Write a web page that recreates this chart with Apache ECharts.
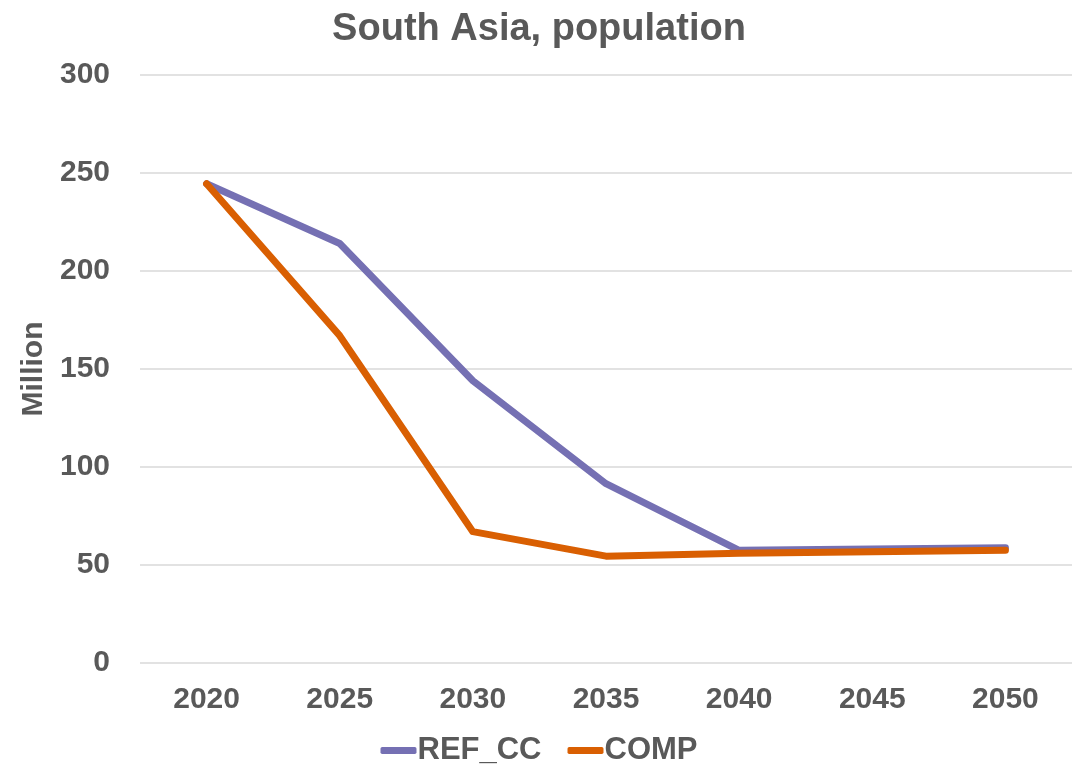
<!DOCTYPE html>
<html>
<head>
<meta charset="utf-8">
<script src="https://cdn.jsdelivr.net/npm/echarts@6/dist/echarts.min.js"></script>
<style>
  html, body { margin: 0; padding: 0; background: #fff; }
  #chart { width: 1078px; height: 766px; }
</style>
</head>
<body>
<div id="chart"></div>
<script>
// South Asia population, million people
const years = ['2020', '2025', '2030', '2035', '2040', '2045', '2050'];
const refCC = [244.5, 214, 144, 91.5, 57.5, 58.2, 58.8];
const comp = [244.5, 167, 67, 54.5, 56, 56.8, 57.5];
const yTicks = { min: 0, max: 300, interval: 50 };

const textColor = '#595959';
const font = '"Liberation Sans", Arial, sans-serif';

const chart = echarts.init(document.getElementById('chart'));
chart.setOption({
  animation: false,
  backgroundColor: '#ffffff',
  title: {
    text: 'South Asia, population',
    left: 'center',
    top: 6,
    textStyle: { color: textColor, fontSize: 38, fontWeight: 'bold', fontFamily: font }
  },
  legend: {
    bottom: 0,
    padding: 0,
    left: 'center',
    itemWidth: 36,
    itemHeight: 7,
    itemGap: 26,
    icon: 'roundRect',
    textStyle: { color: textColor, fontSize: 31, fontWeight: 'bold', fontFamily: font, padding: [0, 0, 0, -4] },
    data: ['REF_CC', 'COMP']
  },
  grid: { left: 140, right: 6, top: 75, bottom: 103, containLabel: false },
  xAxis: {
    type: 'category',
    data: years,
    boundaryGap: true,
    axisLine: { show: false },
    axisTick: { show: false },
    axisLabel: { color: textColor, fontSize: 30, fontWeight: 'bold', fontFamily: font, margin: 22 }
  },
  yAxis: {
    type: 'value',
    min: yTicks.min,
    max: yTicks.max,
    interval: yTicks.interval,
    name: 'Million',
    nameLocation: 'middle',
    nameGap: 89,
    nameTextStyle: { color: textColor, fontSize: 30, fontWeight: 'bold', fontFamily: font },
    axisLine: { show: false },
    axisTick: { show: false },
    axisLabel: { color: textColor, fontSize: 30, fontWeight: 'bold', fontFamily: font, margin: 30 },
    splitLine: { lineStyle: { color: '#d9d9d9', width: 1.5 } }
  },
  series: [
    {
      name: 'REF_CC',
      type: 'line',
      data: refCC,
      symbol: 'none',
      color: '#7570b3',
      lineStyle: { width: 7, cap: 'round', join: 'round' }
    },
    {
      name: 'COMP',
      type: 'line',
      data: comp,
      symbol: 'none',
      color: '#d95f02',
      lineStyle: { width: 7, cap: 'round', join: 'round' }
    }
  ]
});
</script>
</body>
</html>
